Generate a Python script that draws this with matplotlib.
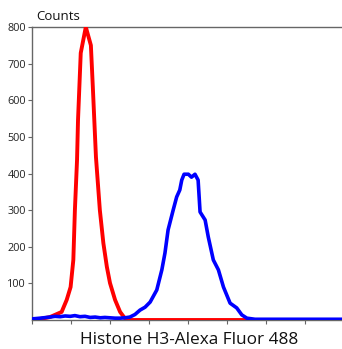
import matplotlib
matplotlib.use("Agg")
import matplotlib.pyplot as plt

# Red (control) histogram
red_x = [0, 0.21, 0.46, 0.59, 0.76, 0.89, 0.99, 1.06, 1.10, 1.155, 1.18, 1.25,
         1.38, 1.51, 1.56, 1.64, 1.74, 1.83, 1.92, 2.0, 2.13, 2.26, 2.38, 2.5, 7.95]
red_y = [0, 3, 8, 14, 22, 55, 90, 164, 300, 437, 546, 729,
         800, 750, 636, 445, 300, 210, 145, 101, 55, 22, 5, 0, 0]

# Blue (Histone H3-Alexa Fluor 488) histogram
blue_x = [0, 0.21, 0.46, 0.59, 0.72, 0.85, 0.98, 1.10, 1.23, 1.36, 1.49, 1.62,
          1.75, 1.87, 2.0, 2.13, 2.26, 2.38, 2.51, 2.64,
          2.77, 2.9, 3.03, 3.2, 3.33, 3.41, 3.49, 3.62, 3.71, 3.79, 3.84, 3.9,
          4.01, 4.09, 4.18, 4.26, 4.31, 4.44, 4.52, 4.65, 4.78, 4.91, 5.08, 5.25,
          5.38, 5.51, 5.72, 7.95]
blue_y = [3, 5, 8, 10, 9, 11, 10, 12, 9, 10, 7, 8,
          6, 7, 6, 5, 5, 6, 8, 15,
          27, 35, 49, 82, 137, 183, 246, 300, 336, 355, 382, 398,
          398, 390, 398, 382, 295, 273, 227, 164, 137, 90, 46, 33,
          14, 5, 2, 2]

y_ticks = [100, 200, 300, 400, 500, 600, 700, 800]
x_ticks = [0, 1, 2, 3, 4, 5, 6, 7]

plt.rcParams['font.family'] = ['Open Sans', 'DejaVu Sans']

fig = plt.figure(figsize=(3.42, 3.49), dpi=100)
ax = fig.add_axes([32/342, 1-320/349, 1-32/342, (320-27)/349])

ax.plot(red_x, red_y, color='#ff0000', lw=2.8, solid_joinstyle='round', zorder=3)
ax.plot(blue_x, blue_y, color='#0000ff', lw=2.6, solid_joinstyle='round', zorder=4)

ax.set_xlim(0, 7.95)
ax.set_ylim(0, 800)
ax.set_yticks(y_ticks)
ax.set_yticklabels([str(v) for v in y_ticks], fontsize=7.8, color='#222222')
ax.set_xticks(x_ticks)
ax.set_xticklabels([])
ax.tick_params(axis='both', colors='#666666', length=3, width=0.8, pad=1.5)
ax.tick_params(axis='y', labelcolor='#222222')

for s in ['left', 'top', 'bottom']:
    ax.spines[s].set_color('#666666')
    ax.spines[s].set_linewidth(1.0)
ax.spines['right'].set_visible(False)

fig.text(36/342, 1-17/349, 'Counts', fontsize=9.5, color='#111111', va='center', ha='left')
fig.text(189/342, 1-340/349, 'Histone H3-Alexa Fluor 488', fontsize=12.4, color='#111111',
         va='center', ha='center')

fig.savefig('out.png', dpi=100)
